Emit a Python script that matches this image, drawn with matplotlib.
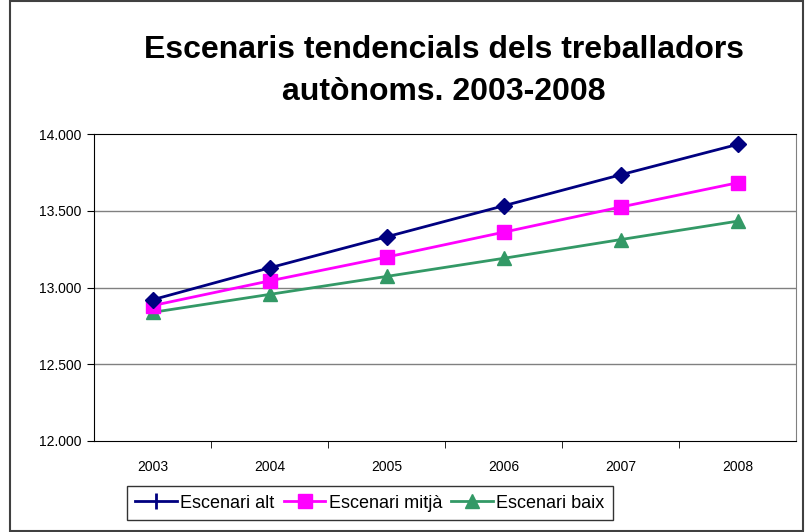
import matplotlib
matplotlib.use("Agg")
import matplotlib.pyplot as plt
from matplotlib.lines import Line2D
from matplotlib.patches import Rectangle

plt.rcParams['font.family'] = ['Liberation Sans', 'DejaVu Sans']

years = ["2003", "2004", "2005", "2006", "2007", "2008"]
alt = [12920, 13128, 13330, 13532, 13734, 13932]
mitja = [12882, 13043, 13198, 13360, 13524, 13682]
baix = [12838, 12955, 13072, 13190, 13312, 13432]

fig = plt.figure(figsize=(8.05, 5.32), dpi=100)
ax = fig.add_axes([94/805, 91/532, 702/805, 307/532])

x = list(range(len(years)))
ax.plot(x, alt, color='#000080', lw=2, marker='D', ms=8, zorder=5)
ax.plot(x, mitja, color='#ff00ff', lw=2, marker='s', ms=10, zorder=4)
ax.plot(x, baix, color='#339966', lw=2, marker='^', ms=10, zorder=3)

ax.set_xlim(-0.5, len(years) - 0.5)
ax.set_ylim(12000, 14000)
ax.set_yticks([12000, 12500, 13000, 13500, 14000])
ax.set_yticklabels([f"{v:,}".replace(",", ".") for v in [12000, 12500, 13000, 13500, 14000]])
ax.set_xticks(x)
ax.set_xticklabels(years)
ax.set_xticks([i + 0.5 for i in x[:-1]], minor=True)
ax.tick_params(axis='x', which='major', length=0, pad=14, labelsize=10)
ax.tick_params(axis='x', which='minor', length=5, direction='out')
ax.tick_params(axis='y', length=5, direction='out', labelsize=10, pad=4)
for v in [12500, 13000, 13500]:
    ax.axhline(v, color='#808080', lw=1, zorder=1)
ax.spines['right'].set_color('#808080')

fig.text(0.551, 1 - 50/532, "Escenaris tendencials dels treballadors", ha='center', va='center',
         fontsize=23, fontweight='bold')
fig.text(0.551, 1 - 92/532, "autònoms. 2003-2008", ha='center', va='center',
         fontsize=23, fontweight='bold')

handles = [
    Line2D([], [], color='#000080', lw=2, marker='|', ms=12, mew=2),
    Line2D([], [], color='#ff00ff', lw=2, marker='s', ms=10),
    Line2D([], [], color='#339966', lw=2, marker='^', ms=10),
]
leg = fig.legend(handles, ["Escenari alt", "Escenari mitjà", "Escenari baix"],
                 loc='center', bbox_to_anchor=(370/805, 1 - 503/532), ncol=3,
                 fontsize=13, frameon=True, fancybox=False, edgecolor='black',
                 handlelength=2.3, handletextpad=0.2, columnspacing=0.5,
                 borderpad=0.45)
leg.get_frame().set_linewidth(1)

fig.patches.append(Rectangle((10/805, 0.002), 793/805, 0.996, transform=fig.transFigure,
                             fill=False, edgecolor='#404040', lw=1.5))

fig.savefig("out.png", dpi=100)
